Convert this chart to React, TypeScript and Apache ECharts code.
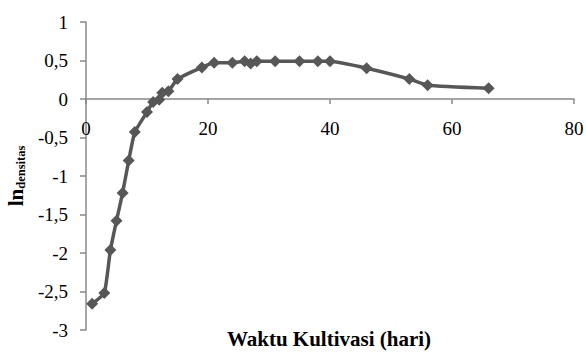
import React, { useEffect, useRef } from "react";
import * as echarts from "echarts";

const days = [1, 3, 4, 5, 6, 7, 8, 10, 11, 12, 12.5, 13.5, 15, 19, 21, 24, 26, 27, 28, 31, 35, 38, 40, 46, 53, 56, 66];
const lnDensitas = [-2.66, -2.52, -1.96, -1.58, -1.22, -0.8, -0.43, -0.17, -0.04, -0.01, 0.08, 0.1, 0.26, 0.41, 0.47, 0.47, 0.49, 0.46, 0.49, 0.49, 0.49, 0.49, 0.49, 0.4, 0.26, 0.18, 0.14];

const xTitle = "Waktu Kultivasi (hari)";
const FONT = "Liberation Serif, serif";

export default function App() {
  const ref = useRef<HTMLDivElement>(null);
  useEffect(() => {
    if (!ref.current) return;
    const chart = echarts.init(ref.current, null, { renderer: "svg" });
    const data = days.map((d, i) => [d, lnDensitas[i]]);
    chart.setOption({
      animation: false,
      backgroundColor: "#ffffff",
      textStyle: { fontFamily: FONT },
      grid: { left: 86, right: 12, top: 22, bottom: 24, containLabel: false, outerBoundsMode: "none" },
      xAxis: {
        type: "value",
        position: "bottom",
        offset: -231,
        min: 0,
        max: 80,
        interval: 20,
        axisLine: { show: true, onZero: false, lineStyle: { color: "#888888", width: 1.5 } },
        axisTick: { show: true, inside: false, length: 5, lineStyle: { color: "#888888", width: 1.5 } },
        axisLabel: {
          margin: 20,
          fontFamily: FONT,
          fontSize: 19,
          color: "#000000",
          showMinLabel: true,
          showMaxLabel: true,
        },
        splitLine: { show: false },
      },
      yAxis: {
        type: "value",
        min: -3,
        max: 1,
        interval: 0.5,
        name: "{a|ln}{b|densitas}",
        nameLocation: "middle",
        nameRotate: 90,
        nameGap: 57,
        nameTextStyle: {
          fontFamily: FONT,
          rich: {
            a: { fontFamily: FONT, fontSize: 21, fontWeight: "bold", color: "#000" },
            b: { fontFamily: FONT, fontSize: 12.5, fontWeight: "bold", color: "#000", padding: [10, 0, 0, 0] },
          },
        },
        axisLine: { show: true, onZero: false, lineStyle: { color: "#888888", width: 1.5 } },
        axisTick: { show: true, inside: false, length: 6, lineStyle: { color: "#888888", width: 1.5 } },
        axisLabel: {
          margin: 18,
          fontFamily: FONT,
          fontSize: 19,
          color: "#000000",
          formatter: (v: number) => String(v).replace(".", ","),
        },
        splitLine: { show: false },
      },
      graphic: [
        {
          type: "text",
          x: 329,
          y: 339,
          style: {
            text: xTitle,
            fontFamily: FONT,
            fontSize: 21,
            fontWeight: "bold",
            fill: "#000",
            align: "center",
            verticalAlign: "middle",
          },
        },
      ],
      series: [
        {
          type: "line",
          data,
          smooth: 0.15,
          symbol: "diamond",
          symbolSize: 12,
          lineStyle: { color: "#575757", width: 3.5 },
          itemStyle: { color: "#575757" },
        },
      ],
    });
    return () => chart.dispose();
  }, []);
  return (
    <div
      ref={ref}
      style={{ position: "absolute", left: 0, top: 0, width: 586, height: 354, overflow: "visible" }}
    />
  );
}
